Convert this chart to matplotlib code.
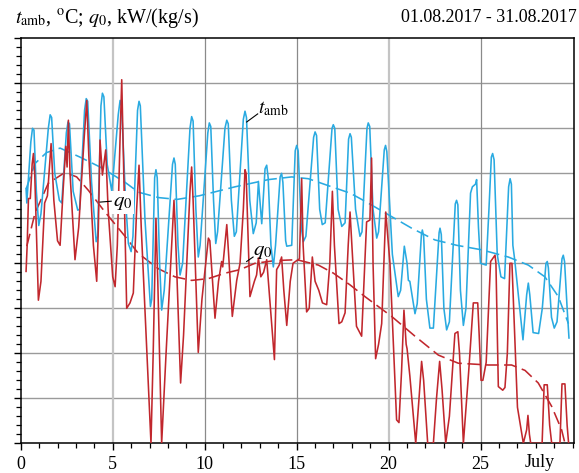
import numpy as np
import matplotlib
matplotlib.use("Agg")
import matplotlib.pyplot as plt
from matplotlib.ticker import MultipleLocator

plt.rcParams["font.family"] = ["Liberation Serif", "DejaVu Serif"]
plt.rcParams["mathtext.fontset"] = "stix"

BLUE, RED = "#29aae1", "#c1272d"

# ── data (day of month, value) ────────────────────────────────────────────────
t_amb_x = [0.29, 0.33, 0.55, 0.64, 0.72, 0.85, 0.98, 1.10, 1.50, 1.60, 1.68, 1.85, 2.10, 2.23,
           2.48, 2.57, 2.65, 2.85, 3.10, 3.20, 3.47, 3.56, 3.64, 3.85, 4.10, 4.18, 4.36, 4.44,
           4.52, 4.70, 4.95, 5.30, 5.40, 5.48, 5.70, 5.85, 6.00, 6.10, 6.35, 6.43, 6.50, 6.75,
           7.05, 7.12, 7.28, 7.35, 7.42, 7.55, 7.66, 7.80, 8.25, 8.33, 8.40, 8.55, 8.66, 8.80,
           9.20, 9.29, 9.37, 9.52, 9.65, 9.75, 10.17, 10.25, 10.33, 10.48, 10.60, 10.70, 11.10,
           11.20, 11.28, 11.45, 11.61, 11.72, 12.10, 12.19, 12.27, 12.45, 12.64, 12.80, 12.92,
           13.10, 13.28, 13.37, 13.45, 13.60, 13.73, 13.85, 14.10, 14.18, 14.25, 14.40, 14.46,
           14.73, 14.92, 15.00, 15.08, 15.25, 15.36, 15.50, 15.92, 16.00, 16.08, 16.25, 16.39,
           16.55, 16.92, 16.99, 17.07, 17.25, 17.45, 17.63, 17.82, 17.90, 17.97, 18.20, 18.44,
           18.55, 18.82, 18.89, 18.97, 19.15, 19.35, 19.45, 19.76, 19.83, 19.90, 20.20, 20.52,
           20.65, 20.85, 21.00, 21.07, 21.15, 21.43, 21.55, 21.78, 21.83, 21.90, 22.05, 22.24,
           22.43, 22.74, 22.79, 22.86, 23.00, 23.15, 23.30, 23.62, 23.69, 23.76, 23.90, 24.06,
           24.20, 24.45, 24.55, 24.72, 24.78, 24.88, 24.99, 25.30, 25.45, 25.58, 25.65, 25.73,
           25.90, 26.10, 26.30, 26.52, 26.60, 26.67, 26.75, 26.85, 27.30, 27.50, 27.59, 27.67,
           27.85, 28.15, 28.35, 28.55, 28.62, 28.68, 28.85, 29.00, 29.15, 29.42, 29.49, 29.56,
           29.70, 29.80]
t_amb_y = [28.3, 26.7, 33.5, 35.0, 34.8, 28.0, 24.2, 25.5, 35.0, 36.5, 36.2, 30.0, 27.0, 26.7,
           34.5, 35.7, 35.5, 28.0, 25.9, 26.0, 37.0, 38.3, 38.0, 29.0, 22.4, 23.0, 37.5, 38.9,
           38.5, 31.0, 28.0, 36.5, 38.1, 37.5, 27.0, 22.2, 21.3, 23.0, 37.0, 38.0, 37.5, 25.0,
           15.2, 16.0, 29.5, 30.4, 29.5, 20.0, 14.8, 17.0, 31.0, 31.7, 31.0, 22.0, 18.7, 20.0,
           35.0, 36.3, 35.8, 26.0, 20.7, 22.0, 34.5, 35.6, 35.2, 27.0, 22.2, 23.5, 35.0,
           35.9, 35.5, 27.0, 23.0, 23.5, 36.0, 36.9, 36.2, 27.0, 23.3, 24.5, 29.1,
           24.4, 30.5, 30.9, 29.5, 22.0, 19.6, 22.0, 29.6, 30.0, 29.0, 22.5, 21.9,
           22.0, 32.5, 33.1, 32.5, 24.0, 22.4, 23.0, 34.0, 34.6, 34.2, 26.0, 24.3,
           24.5, 35.0, 35.4, 35.0, 26.0, 24.1, 24.5, 33.8, 34.4, 34.0, 26.0, 23.0,
           23.5, 35.0, 35.6, 35.2, 26.0, 22.8, 23.5, 32.6, 33.1, 32.4, 21.0, 16.3,
           17.0, 21.9, 20.0, 18.1, 18.0, 14.4, 15.5, 23.2, 23.7, 23.0, 16.0, 12.8,
           12.8, 23.4, 23.9, 23.2, 15.0, 12.6, 13.5, 26.6, 27.0, 26.5, 17.0, 13.1,
           15.0, 27.8, 28.5, 28.8, 29.3, 24.0, 20.0, 19.8, 26.0, 31.8, 32.2, 31.5,
           21.0, 18.5, 18.3, 28.5, 29.4, 28.8, 22.0, 20.4, 11.5, 16.5, 17.8, 16.5,
           12.3, 12.2, 15.0, 20.0, 20.2, 19.5, 14.0, 12.8, 13.5, 20.5, 20.9, 20.2,
           15.0, 11.7]

q0_x = [0.29, 0.35, 0.42, 0.52, 0.62, 0.69, 0.76, 0.96, 1.10, 1.30, 1.45, 1.50, 1.65, 1.80,
        2.00, 2.14, 2.30, 2.45, 2.52, 2.59, 2.68, 2.95, 3.15, 3.45, 3.59, 3.70, 3.95, 4.13,
        4.22, 4.31, 4.44, 4.62, 4.75, 5.00, 5.13, 5.25, 5.40, 5.49, 5.58, 5.76, 5.94, 6.12,
        6.30, 6.43, 6.55, 7.08, 7.20, 7.35, 7.45, 7.66, 7.90, 8.25, 8.33, 8.40, 8.69, 8.85,
        9.20, 9.29, 9.37, 9.65, 9.85, 10.20, 10.28, 10.56, 10.75, 10.92, 10.98, 11.20, 11.30,
        11.50, 11.74, 11.92, 12.10, 12.19, 12.25, 12.46, 12.70, 12.82, 12.92, 13.05, 13.20,
        13.37, 13.50, 13.79, 13.91, 14.05, 14.18, 14.30, 14.46, 14.65, 14.80, 15.00, 15.15,
        15.27, 15.35, 15.54, 15.68, 15.85, 16.00, 16.20, 16.40, 16.63, 16.80, 16.94, 17.05,
        17.30, 17.45, 17.63, 17.80, 17.90, 18.00, 18.25, 18.53, 18.70, 18.80, 18.98, 19.07,
        19.15, 19.29, 19.45, 19.62, 19.84, 19.95, 20.07, 20.43, 20.56, 20.70, 20.83, 20.95,
        21.00, 21.15, 21.47, 21.65, 21.79, 21.90, 22.12, 22.43, 22.60, 22.77, 22.90, 23.10,
        23.30, 23.60, 23.76, 23.85, 24.06, 24.35, 24.60, 24.84, 24.92, 25.02, 25.12, 25.30,
        25.54, 25.78, 25.83, 25.96, 26.20, 26.32, 26.45, 26.59, 26.70, 26.85, 27.00, 27.32,
        27.50, 27.57, 27.65, 27.72, 28.34, 28.45, 28.62, 28.75, 28.86, 29.31, 29.42, 29.58,
        29.70, 29.78]
q0_y = [19.1, 22.0, 27.2, 27.2, 31.0, 32.2, 30.0, 15.9, 18.0, 26.7, 27.5, 28.9, 33.3, 27.0,
        22.5, 22.0, 28.0, 33.0, 30.7, 35.9, 30.0, 20.4, 24.0, 34.0, 38.1, 32.0, 22.0, 18.0,
        24.0, 33.7, 29.8, 32.6, 26.0, 18.5, 17.4, 22.0, 34.0, 40.4, 32.0, 15.0, 15.6, 16.7,
        26.0, 30.9, 24.0, 0.0, 10.0, 25.0, 18.0, 0.0, 10.0, 24.0, 27.0, 24.0, 6.7, 12.0,
        28.0, 30.7, 27.0, 10.1, 16.0, 22.8, 22.5, 13.9, 18.0, 20.2, 19.6, 24.3, 21.0,
        14.1, 18.1, 20.0, 26.0, 30.4, 30.0, 16.3, 18.0, 18.7, 20.6, 18.5, 19.0,
        20.4, 17.0, 9.3, 19.3, 19.8, 20.7, 17.0, 13.1, 18.0, 20.0, 20.3, 20.5,
        29.4, 22.0, 14.6, 15.0, 20.7, 18.0, 17.0, 15.6, 15.4, 20.0, 28.0, 22.0,
        13.3, 13.5, 14.5, 22.0, 25.7, 22.0, 13.0, 11.9, 20.0, 24.6, 24.8, 31.7,
        20.0, 9.4, 11.0, 13.3, 25.7, 23.0, 20.0, 2.6, 2.3, 8.0, 14.8, 11.0,
        10.5, 7.5, 0.0, 5.0, 9.1, 7.0, 0.0, 0.0, 5.0, 9.1, 6.0, 0.0,
        3.0, 12.2, 12.4, 10.0, 0.0, 8.0, 15.6, 15.6, 12.0, 7.0, 7.0, 9.0,
        20.2, 20.9, 20.0, 6.3, 5.9, 6.2, 10.0, 20.0, 20.0, 12.0, 4.0, 0.0,
        1.5, 3.1, 1.0, 0.0, 0.0, 6.5, 6.5, 2.0, 0.0, 0.0, 6.6, 6.6,
        2.0, 0.0]

t_trend_x = [0.30, 0.78, 1.40, 2.14, 3.22, 4.31, 5.04, 5.67, 6.40, 7.50, 8.50, 9.70, 11.65,
             13.46, 14.73, 15.63, 16.90, 17.90, 18.71, 19.98, 21.25, 22.51, 23.70, 25.05,
             26.50, 27.59, 28.49, 29.22, 29.77]
t_trend_y = [28.3, 31.1, 32.3, 32.8, 31.8, 30.7, 29.8, 29.0, 27.9, 27.3, 27.1, 27.5, 28.5,
             29.3, 29.6, 29.4, 28.5, 27.8, 26.9, 25.4, 23.9, 22.6, 22.0, 21.5,
             20.7, 19.8, 18.5, 16.3, 13.3]

q_trend_x = [0.33, 0.78, 1.50, 2.41, 3.04, 3.68, 4.58, 5.67, 6.39, 7.48, 8.38, 9.29, 10.20,
             11.10, 11.92, 12.73, 13.82, 15.00, 16.18, 17.00, 17.90, 18.71, 20.16, 21.43,
             22.70, 23.78, 25.41, 26.68, 27.41, 28.13, 28.86, 29.40, 29.58]
q_trend_y = [21.9, 25.6, 28.9, 30.1, 29.6, 28.1, 25.7, 23.0, 21.1, 19.4, 18.5, 18.1, 18.3,
             18.9, 19.3, 20.0, 20.3, 20.4, 19.8, 18.9, 17.6, 16.3, 14.1, 11.9,
             9.8, 8.9, 8.7, 8.7, 8.1, 6.7, 4.1, 1.5, 0.0]

x_major = [0, 5, 10, 15, 20, 25]

# ── figure ────────────────────────────────────────────────────────────────────
fig = plt.figure(figsize=(5.79, 4.73), dpi=100)
ax = fig.add_axes([0.0358, 0.0628, 0.9561, 0.8562])

ax.set_xlim(0, 30.09)
ax.set_ylim(0, 45)

# grid
for gy in range(5, 45, 5):
    ax.axhline(gy, color="#9a9a9a", lw=1.0, zorder=0)
for gx in x_major[1:]:
    light = gx in (5, 20)
    ax.axvline(gx, color="#c4c4c4" if light else "#8a8a8a",
               lw=1.6 if light else 0.9, zorder=0)

ax.plot(t_trend_x, t_trend_y, color=BLUE, lw=1.15, dashes=(8, 3.5), zorder=2)
ax.plot(q_trend_x, q_trend_y, color=RED, lw=1.15, dashes=(8, 3.5), zorder=2)
ax.plot(t_amb_x, t_amb_y, color=BLUE, lw=1.15, zorder=3)
ax.plot(q0_x, q0_y, color=RED, lw=1.15, zorder=4)

# ticks
ax.set_xticks(x_major)
ax.set_xticklabels([str(v) for v in x_major], fontsize=13)
ax.xaxis.set_minor_locator(MultipleLocator(1))
ax.set_yticks(range(0, 46, 5))
ax.set_yticklabels([])
ax.yaxis.set_minor_locator(MultipleLocator(1))
ax.tick_params(axis="both", which="major", direction="out", length=4.8, width=1.0,
               color="black", pad=4)
ax.tick_params(axis="both", which="minor", direction="out", length=3.4, width=0.9)
for sp in ax.spines.values():
    sp.set_linewidth(1.1)

# line labels
ax.text(12.9, 37.2, r"$t_{\rm amb}$", fontsize=14, ha="left", va="center", zorder=6)
ax.plot([12.28, 12.88], [35.7, 36.6], color="black", lw=0.8, zorder=6)
ax.text(5.0, 26.8, r"$q_0$", fontsize=15, ha="left", va="center", zorder=6,
        bbox=dict(facecolor="white", edgecolor="none", pad=1.5))
ax.plot([4.31, 4.92], [26.8, 26.9], color="black", lw=0.8, zorder=6)
ax.text(12.6, 21.3, r"$q_0$", fontsize=15, ha="left", va="center", zorder=6)
ax.plot([12.28, 12.63], [20.2, 20.7], color="black", lw=0.8, zorder=6)

fig.text(540 / 579, 1 - 462 / 473, "July", fontsize=13, ha="center", va="center")
fig.text(15 / 579, 1 - 18 / 473, r"$t_{\rm amb}$, $^{\rm o}$C; $q_0$, kW/(kg/s)",
         fontsize=14.5, ha="left", va="center")
fig.text(577 / 579, 1 - 18 / 473, "01.08.2017 - 31.08.2017", fontsize=13,
         ha="right", va="center")

fig.savefig("out.png", dpi=100)
